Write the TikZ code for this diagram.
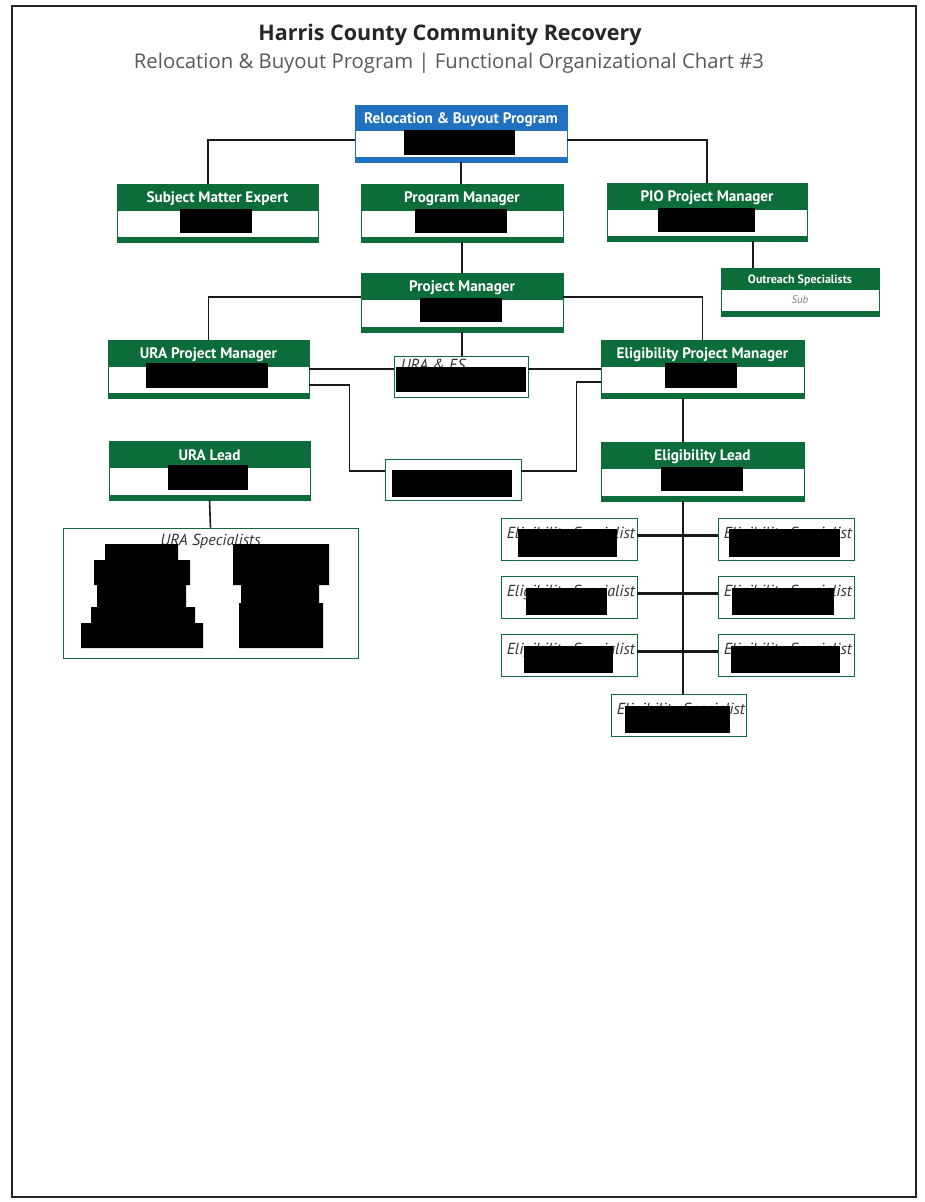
\documentclass[tikz,border=0pt]{standalone}
\usepackage{fontspec}
\setmainfont{Open Sans}
\newfontfamily\lblfont{PT Sans}
\usetikzlibrary{positioning}

\definecolor{orggreen}{RGB}{12,108,58}
\definecolor{orgblue}{RGB}{32,114,192}

\tikzset{
  boxframe/.style={draw=#1, line width=0.6pt, inner sep=0pt, fill=white},
  thinbox/.style={draw=orggreen, line width=0.8pt, inner sep=0pt, fill=white},
  hdrtext/.style={text=white, font=\lblfont\bfseries\fontsize{15.2}{17}\selectfont},
  spectext/.style={font=\lblfont\itshape\fontsize{16}{18}\selectfont, text=black!80, inner sep=0pt},
  link/.style={line width=1.6pt, black!90},
  bar/.style={line width=3pt, black!90},
  redact/.style={fill=black}
}

% name, x, y, width, height, colour, header height, label
\newcommand{\rolebox}[8]{%
  \node[boxframe=#6, minimum width=#4, minimum height=#5] (#1) at (#2,#3) {};
  \fill[#6] (#1.north west) rectangle ([yshift=-#7pt]#1.north east);
  \fill[#6] ([yshift=5pt]#1.south west) rectangle (#1.south east);
  \node[hdrtext] at ([yshift=-#7pt/2-1.5pt]#1.north) {#8};
}

\begin{document}
\begin{tikzpicture}[x=1pt,y=-1pt]
\useasboundingbox (0,0) rectangle (925,1202);
\fill[white] (0,0) rectangle (925,1202);
\draw[line width=1.5pt, black!85] (12,6) rectangle (916,1197);

% titles
\node[font=\bfseries\fontsize{21.5}{24}\selectfont, text=black!85] (title) at (450,35) {Harris County Community Recovery};
\node[font=\fontsize{20.3}{23}\selectfont, text=black!65] (subtitle) at (449,63) {Relocation \& Buyout Program | Functional Organizational Chart \#3};

% role boxes
\rolebox{rbp}{461}{133.5}{212}{57}{orgblue}{26}{Relocation \& Buyout Program}
\rolebox{sme}{217.5}{213}{201}{58}{orggreen}{27}{Subject Matter Expert}
\rolebox{pgm}{462}{213}{202}{58}{orggreen}{27}{Program Manager}
\rolebox{pio}{707}{212}{200}{58}{orggreen}{27}{PIO Project Manager}
\rolebox{outreach}{800}{292}{158}{48}{orggreen}{22}{\fontsize{12}{13}\selectfont Outreach Specialists}
\node[font=\lblfont\itshape\fontsize{11}{12}\selectfont, text=black!50] at (800,300) {Sub};
\rolebox{pjm}{462}{302.5}{202}{59}{orggreen}{27}{Project Manager}
\rolebox{urapm}{208.5}{369}{201}{58}{orggreen}{27}{URA Project Manager}
\rolebox{eligpm}{702.5}{369}{203}{58}{orggreen}{27}{Eligibility Project Manager}
\rolebox{uralead}{209.5}{470.5}{201}{59}{orggreen}{27}{URA Lead}
\rolebox{eliglead}{702.5}{471.5}{203}{59}{orggreen}{27}{Eligibility Lead}

% thin boxes
\node[thinbox, minimum width=134, minimum height=41] (uraes) at (461,376.5) {};
\node[spectext, anchor=north west] at ([shift={(7pt,-3pt)}]uraes.north west) {URA \& ES};
\node[thinbox, minimum width=136, minimum height=41] (midbox) at (453,479.5) {};
\node[thinbox, minimum width=295, minimum height=130] (uraspec) at (210.5,593) {};
\node[spectext, anchor=north] at ([yshift=-6pt]uraspec.north) {URA Specialists};

\node[thinbox, minimum width=136, minimum height=42] (es1) at (569,539) {};
\node[thinbox, minimum width=136, minimum height=42] (es2) at (786,539) {};
\node[thinbox, minimum width=136, minimum height=42] (es3) at (569,597.5) {};
\node[thinbox, minimum width=136, minimum height=42] (es4) at (786,597.5) {};
\node[thinbox, minimum width=136, minimum height=42] (es5) at (569,655.5) {};
\node[thinbox, minimum width=136, minimum height=42] (es6) at (786,655.5) {};
\node[thinbox, minimum width=135, minimum height=42] (es7) at (678.5,715) {};
\foreach \n in {es1,es2,es3,es4,es5,es6,es7}
  \node[spectext, anchor=north west] at ([shift={(6pt,-9pt)}]\n.north west) {Eligibility Specialist};

% redactions
\fill[redact] (404,130) rectangle (515,155);
\fill[redact] (180,209) rectangle (252,233);
\fill[redact] (415,209) rectangle (507,233);
\fill[redact] (658,208) rectangle (755,232);
\fill[redact] (420,298) rectangle (502,322);
\fill[redact] (146,363) rectangle (268,388);
\fill[redact] (396,367) rectangle (526,392);
\fill[redact] (665,363) rectangle (737,388);
\fill[redact] (168,465) rectangle (248,490);
\fill[redact] (392,470) rectangle (512,497);
\fill[redact] (661,467) rectangle (743,491);
\fill[redact] (105,544) -- (178,544) -- (178,560) -- (190,560) -- (190,585) -- (186,585)
  -- (186,607) -- (195,607) -- (195,623) -- (203,623) -- (203,648) -- (81,648)
  -- (81,623) -- (91,623) -- (91,607) -- (97,607) -- (97,585) -- (94,585)
  -- (94,560) -- (105,560) -- cycle;
\fill[redact] (233,544) -- (329,544) -- (329,585) -- (319,585) -- (319,603) -- (323,603)
  -- (323,648) -- (239,648) -- (239,603) -- (241,603) -- (241,585) -- (233,585) -- cycle;
\fill[redact] (518,529) rectangle (617,557);
\fill[redact] (729,529) rectangle (840,557);
\fill[redact] (526,588) rectangle (607,615);
\fill[redact] (732,588) rectangle (834,615);
\fill[redact] (524,646) rectangle (613,673);
\fill[redact] (731,646) rectangle (840,673);
\fill[redact] (625,706) rectangle (730,733);

% connectors
\draw[link] ([yshift=-6.5pt]rbp.west) -| ([xshift=-9.5pt]sme.north);
\draw[link] ([yshift=-6.5pt]rbp.east) -| (pio.north);
\draw[link] (rbp.south) -- (rbp.south |- pgm.north);
\draw[link] (pgm.south) -- (pjm.north);
\draw[link] ([xshift=46pt]pio.south) -- ([xshift=46pt]pio.south |- outreach.north);
\draw[link] ([yshift=5.5pt]pjm.west) -| (urapm.north);
\draw[link] ([yshift=5.5pt]pjm.east) -| (eligpm.north);
\draw[link] (pjm.south) -- (pjm.south |- uraes.north);
\draw[link] (urapm.east) -- (urapm.east -| uraes.west);
\draw[link] (uraes.east |- eligpm.west) -- (eligpm.west);
\draw[link] ([yshift=-16pt]urapm.east) -- ++(40,0) |- ([yshift=8.5pt]midbox.west);
\draw[link] ([yshift=8.5pt]midbox.east) -- ++(55,0) |- ([yshift=-13pt]eligpm.west);
\draw[link] ([xshift=-19.5pt]eligpm.south) -- ([xshift=-19.5pt]eligpm.south |- eliglead.north);
\draw[link] (uralead.south) -- (uraspec.north);
\draw[link] ([xshift=-19.5pt]eliglead.south) -- ([xshift=-19.5pt]eliglead.south |- es7.north);
\draw[bar] ([yshift=4pt]es1.east) -- ([yshift=4pt]es1.east -| es2.west);
\draw[bar] ([yshift=4pt]es3.east) -- ([yshift=4pt]es3.east -| es4.west);
\draw[bar] ([yshift=4pt]es5.east) -- ([yshift=4pt]es5.east -| es6.west);
\end{tikzpicture}
\end{document}
